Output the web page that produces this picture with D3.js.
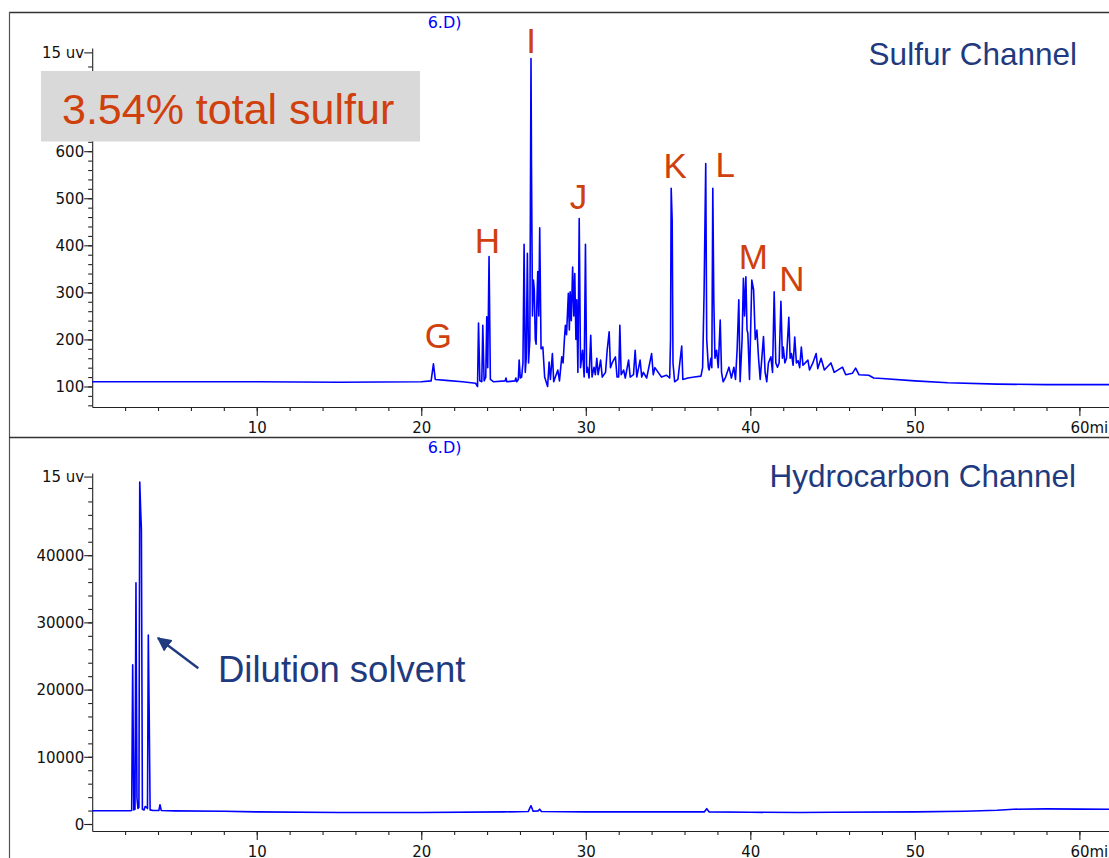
<!DOCTYPE html>
<html>
<head>
<meta charset="utf-8">
<script src="https://cdn.jsdelivr.net/npm/d3@7"></script>
<style>
  html, body { margin: 0; padding: 0; background: #fff; }
  svg { display: block; }
</style>
</head>
<body>
<script>
// ---------- DATA ----------
// Sulfur channel trace: retention time (min) and signal
const sulfurTime = [0, 5, 10, 15, 20, 20.6, 20.74, 20.85, 21.5, 22.5, 23.3, 23.42, 23.48, 23.56, 23.68, 23.74, 23.82, 23.92, 23.98, 24.04, 24.12, 24.2, 24.4, 25.1, 25.15, 25.2, 25.7, 25.75, 25.8, 25.9, 25.95, 26.02, 26.1, 26.18, 26.25, 26.32, 26.38, 26.45, 26.52, 26.6, 26.67, 26.7, 26.76, 26.82, 26.87, 26.93, 26.98, 27.03, 27.08, 27.14, 27.2, 27.28, 27.39, 27.5, 27.68, 27.77, 27.85, 27.97, 28.05, 28.3, 28.4, 28.54, 28.62, 28.7, 28.76, 28.83, 28.94, 29.0, 29.05, 29.12, 29.2, 29.27, 29.33, 29.4, 29.45, 29.52, 29.6, 29.68, 29.8, 29.9, 29.98, 30.05, 30.1, 30.2, 30.3, 30.38, 30.5, 30.58, 30.67, 30.75, 30.9, 31.0, 31.2, 31.3, 31.42, 31.5, 31.6, 31.8, 31.9, 32.0, 32.07, 32.15, 32.3, 32.4, 32.6, 32.7, 32.9, 33.0, 33.1, 33.3, 33.4, 33.5, 33.7, 34.0, 34.1, 34.2, 34.4, 34.6, 34.9, 35.1, 35.15, 35.19, 35.25, 35.3, 35.4, 35.6, 35.83, 35.9, 36.2, 36.6, 37.0, 37.1, 37.19, 37.29, 37.35, 37.45, 37.5, 37.6, 37.66, 37.72, 37.78, 37.85, 37.95, 38.05, 38.17, 38.25, 38.35, 38.5, 38.7, 38.85, 39.0, 39.1, 39.2, 39.3, 39.38, 39.5, 39.58, 39.65, 39.73, 39.8, 39.85, 39.95, 40.09, 40.2, 40.3, 40.4, 40.5, 40.6, 40.8, 40.9, 41.0, 41.1, 41.25, 41.35, 41.45, 41.55, 41.65, 41.75, 41.86, 41.95, 42.0, 42.1, 42.2, 42.34, 42.42, 42.5, 42.6, 42.7, 42.8, 42.9, 43.0, 43.1, 43.2, 43.5, 43.6, 43.8, 44.0, 44.1, 44.3, 44.5, 44.9, 45.1, 45.6, 45.8, 46.2, 46.4, 46.6, 47.2, 47.5, 48, 50, 52, 55, 58, 61.8];
const sulfurSignal = [110, 110, 110, 109, 110, 112, 148, 115, 113, 110, 107, 100, 235, 112, 110, 230, 112, 120, 248, 140, 376, 115, 110, 112, 118, 110, 112, 118, 110, 115, 156, 118, 120, 150, 402, 130, 160, 383, 150, 200, 797, 566, 250, 326, 305, 200, 190, 280, 344, 250, 437, 180, 184, 120, 100, 152, 115, 170, 110, 135, 112, 163, 150, 200, 230, 210, 298, 220, 301, 240, 354, 250, 340, 200, 284, 130, 457, 140, 177, 120, 402, 130, 141, 118, 209, 120, 141, 125, 160, 125, 156, 120, 130, 177, 216, 140, 150, 163, 120, 120, 230, 125, 135, 118, 156, 120, 125, 177, 120, 156, 120, 130, 118, 170, 125, 140, 130, 120, 124, 118, 200, 521, 453, 150, 110, 115, 186, 115, 118, 120, 122, 140, 300, 574, 200, 140, 135, 160, 140, 521, 284, 160, 177, 140, 241, 130, 110, 120, 141, 118, 141, 115, 180, 284, 110, 200, 330, 250, 333, 220, 213, 115, 326, 305, 200, 220, 160, 115, 206, 130, 110, 150, 163, 130, 301, 150, 141, 150, 281, 160, 184, 150, 160, 247, 160, 170, 145, 205, 150, 155, 140, 184, 145, 156, 135, 150, 170, 138, 160, 135, 150, 130, 141, 125, 128, 139, 125, 124, 118, 117, 112, 108, 105, 104, 104];

// Hydrocarbon channel trace
const hcTime = [0, 2.3, 2.4, 2.46, 2.53, 2.6, 2.66, 2.72, 2.78, 2.84, 2.89, 2.95, 2.99, 3.05, 3.15, 3.22, 3.3, 3.36, 3.41, 3.46, 3.52, 3.7, 4.05, 4.12, 4.2, 5, 8, 10, 15, 20, 25, 26.5, 26.67, 26.8, 27.1, 27.2, 27.3, 30, 35, 37.2, 37.35, 37.5, 40, 43, 45, 50, 53, 55, 56, 58, 60, 61.8];
const hcSignal = [1980, 1980, 2000, 23700, 2100, 2200, 35900, 3900, 2300, 2500, 50900, 46400, 43800, 2200, 2100, 2600, 2500, 2300, 28100, 17300, 2100, 2000, 2000, 2870, 2000, 1950, 1900, 1800, 1700, 1720, 1800, 1850, 2720, 1900, 1950, 2200, 1850, 1800, 1800, 1800, 2280, 1800, 1750, 1700, 1750, 1800, 1900, 2050, 2200, 2250, 2220, 2200];

// Peak letters in the sulfur channel (anchor time, anchor signal)
const peakLetters = ["G", "H", "I", "J", "K", "L", "M", "N"];
const peakLetterTime = [21.04, 24.02, 26.67, 29.55, 35.43, 38.47, 40.19, 42.52];
const peakLetterSignal = [182, 384, 808, 477, 543, 545, 350, 303];

// Axis ticks
const xMajorTicks = [10, 20, 30, 40, 50, 60];
const sulfurMajorTicks = [100, 200, 300, 400, 500, 600];
const hcMajorTicks = [0, 10000, 20000, 30000, 40000];
const topTickLabel = "15 uv";
const sulfurTopTick = 810;
const hcTopTick = 51700;

// Text
const sulfurTitle = "Sulfur Channel";
const hcTitle = "Hydrocarbon Channel";
const totalSulfurText = "3.54% total sulfur";
const solventText = "Dilution solvent";
const fileTag = "6.D)";

// ---------- DRAWING ----------
const W = 1109, H = 858;
const navy = "#1f3a7f", orange = "#d0400c", trace = "#0000ff", axisCol = "#222";
const svg = d3.select("body").append("svg").attr("width", W).attr("height", H)
  .style("background", "#fff");

// Frame lines
svg.append("line").attr("x1", 9).attr("x2", W).attr("y1", 12.5).attr("y2", 12.5)
  .attr("stroke", "#333").attr("stroke-width", 1.5);
svg.append("line").attr("x1", 9.5).attr("x2", 9.5).attr("y1", 12).attr("y2", H)
  .attr("stroke", "#555").attr("stroke-width", 1.2);
svg.append("line").attr("x1", 9).attr("x2", W).attr("y1", 437.5).attr("y2", 437.5)
  .attr("stroke", "#333").attr("stroke-width", 1.5);

const x = d3.scaleLinear().domain([0, 61.8]).range([92.2, 1109]);
const yS = d3.scaleLinear().domain([56.4, 819.3]).range([407, 48]);
const yH = d3.scaleLinear().domain([-1042, 52230]).range([831, 473]);

function styleAxis(g) {
  g.selectAll("path,line").attr("stroke", axisCol).attr("stroke-width", 1.1);
  g.selectAll("text").attr("font-family", "DejaVu Sans").attr("font-size", 15).attr("fill", "#111");
}

function drawPanel(y, yMajor, yMinorStep, yTop, yTopLabel, axisY, labelDy) {
  // minor x ticks
  const gxm = svg.append("g").attr("transform", `translate(0,${axisY})`)
    .call(d3.axisBottom(x).tickValues(d3.range(2, 62, 2)).tickSize(4).tickSizeOuter(0).tickFormat(""));
  styleAxis(gxm);
  const gx = svg.append("g").attr("transform", `translate(0,${axisY})`)
    .call(d3.axisBottom(x).tickValues(xMajorTicks).tickSize(9).tickSizeOuter(0)
      .tickFormat(d => d === 60 ? "60min" : d));
  styleAxis(gx);
  gx.select(".domain").remove();
  gx.selectAll("text").attr("dy", labelDy);
  gx.selectAll(".tick").filter(d => d === 60).select("text")
    .attr("text-anchor", "start").attr("x", -9.5);

  // y axis
  const dom = y.domain();
  const minor = d3.range(Math.ceil(dom[0] / yMinorStep) * yMinorStep, yTop - yMinorStep / 2, yMinorStep);
  const gym = svg.append("g").attr("transform", "translate(92.2,0)")
    .call(d3.axisLeft(y).tickValues(minor).tickSize(4).tickSizeOuter(0).tickFormat(""));
  styleAxis(gym);
  const gy = svg.append("g").attr("transform", "translate(92.2,0)")
    .call(d3.axisLeft(y).tickValues(yMajor.concat([yTop])).tickSize(8).tickSizeOuter(0)
      .tickFormat(d => d === yTop ? yTopLabel : d));
  styleAxis(gy);
  gy.select(".domain").remove();
  gy.selectAll("text").attr("x", -8).attr("dy", "0.36em");
}

drawPanel(yS, sulfurMajorTicks, 20, sulfurTopTick, topTickLabel, 407, "0.95em");
drawPanel(yH, hcMajorTicks, 2000, hcTopTick, topTickLabel, 831, "0.95em");

// traces
const sData = sulfurTime.map((t, i) => [t, sulfurSignal[i]]);
const hData = hcTime.map((t, i) => [t, hcSignal[i]]);
svg.append("path").datum(sData)
  .attr("d", d3.line().x(d => x(d[0])).y(d => yS(d[1])))
  .attr("fill", "none").attr("stroke", trace).attr("stroke-width", 1.6).attr("stroke-linejoin", "round");
svg.append("path").datum(hData)
  .attr("d", d3.line().x(d => x(d[0])).y(d => yH(d[1])))
  .attr("fill", "none").attr("stroke", trace).attr("stroke-width", 1.6).attr("stroke-linejoin", "round");

// blue file tags
svg.append("text").attr("x", 427.7).attr("y", 28).text(fileTag)
  .attr("font-family", "DejaVu Sans").attr("font-size", 16).attr("fill", "#0000ff");
svg.append("text").attr("x", 427.7).attr("y", 453).text(fileTag)
  .attr("font-family", "DejaVu Sans").attr("font-size", 16).attr("fill", "#0000ff");

// gray box with total sulfur
svg.append("rect").attr("x", 41).attr("y", 71).attr("width", 379).attr("height", 70.5).attr("fill", "#d9d9d9");
svg.append("text").attr("x", 62).attr("y", 124).text(totalSulfurText)
  .attr("font-family", "Liberation Sans").attr("font-size", 43).attr("fill", orange);

// channel titles
svg.append("text").attr("x", 1077).attr("y", 65).attr("text-anchor", "end").text(sulfurTitle)
  .attr("font-family", "Liberation Sans").attr("font-size", 31.5).attr("fill", navy);
svg.append("text").attr("x", 1076).attr("y", 487).attr("text-anchor", "end").text(hcTitle)
  .attr("font-family", "Liberation Sans").attr("font-size", 31.5).attr("fill", navy);

// peak letters
svg.append("g").selectAll("text").data(peakLetters).join("text")
  .attr("x", (d, i) => x(peakLetterTime[i]))
  .attr("y", (d, i) => yS(peakLetterSignal[i]))
  .attr("text-anchor", "middle")
  .attr("font-family", "Liberation Sans").attr("font-size", 35).attr("fill", orange)
  .text(d => d);

// dilution solvent annotation + arrow
const defs = svg.append("defs");
defs.append("marker").attr("id", "ah").attr("viewBox", "0 0 10 10").attr("refX", 9).attr("refY", 5)
  .attr("markerWidth", 6).attr("markerHeight", 6).attr("markerUnits", "strokeWidth").attr("orient", "auto")
  .append("path").attr("d", "M0,0 L10,5 L0,10 z").attr("fill", navy);
svg.append("line").attr("x1", 198.3).attr("y1", 668.3).attr("x2", 158).attr("y2", 638)
  .attr("stroke", navy).attr("stroke-width", 2.4).attr("marker-end", "url(#ah)");
svg.append("text").attr("x", 218).attr("y", 682).text(solventText)
  .attr("font-family", "Liberation Sans").attr("font-size", 36.5).attr("fill", navy);
</script>
</body>
</html>
